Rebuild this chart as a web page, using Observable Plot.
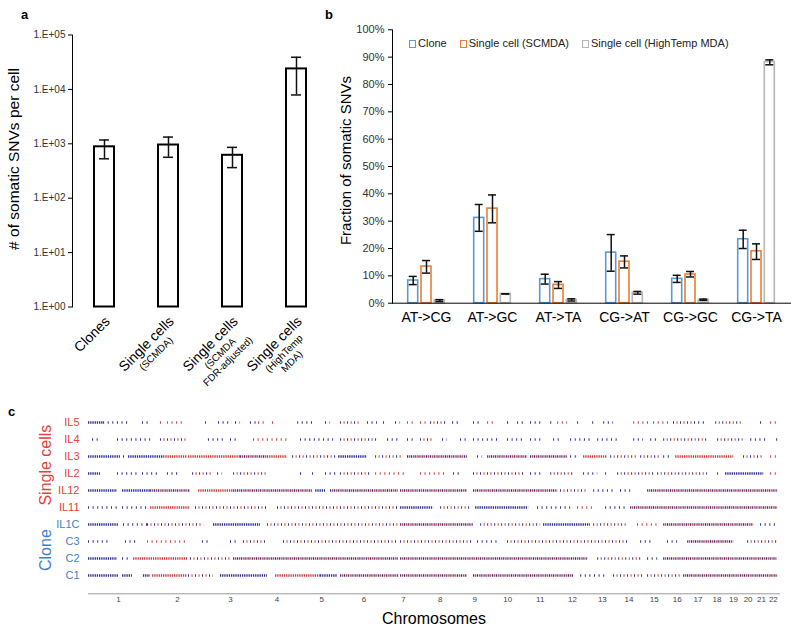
<!DOCTYPE html>
<html><head><meta charset="utf-8">
<script src="https://cdn.jsdelivr.net/npm/d3@7"></script>
<script src="https://cdn.jsdelivr.net/npm/@observablehq/plot@0.6"></script>
<style>
body{margin:0;background:#fff;font-family:"Liberation Sans",Arial,sans-serif;}
#root{position:relative;width:800px;height:632px;overflow:hidden;background:#fff}
.pl{position:absolute;font-weight:bold;font-size:13px;line-height:13px;color:#000}
.panel{position:absolute}
#legend{position:absolute;left:409px;top:37px;display:flex;font-size:11px;line-height:13px;color:#222;align-items:center;white-space:nowrap}
#legend .it{display:flex;align-items:center;margin-right:13px}
.sw{display:inline-block;width:5px;height:6px;border:1.3px solid;margin-right:2px;background:#fff}
</style></head><body>
<div id="root">
  <div class="pl" style="left:21px;top:7.5px">a</div>
  <div class="pl" style="left:325px;top:7.5px">b</div>
  <div class="pl" style="left:8px;top:404.5px">c</div>
  <div class="panel" id="pa" style="left:0;top:0"></div>
  <div class="panel" id="pb" style="left:330px;top:0"></div>
  <div class="panel" id="pc" style="left:0;top:400px"></div>
  <div id="legend"></div>
</div>
<script>
const FONT = '"Liberation Sans", Arial, sans-serif';
// ---------- Panel a data ----------
const aCategories = ["Clones", "Single cells (SCMDA)", "Single cells (SCMDA FDR-adjusted)", "Single cells (HighTemp MDA)"];
const aMain = ["Clones", "Single cells", "Single cells", "Single cells"];
const aSub = ["", "(SCMDA)", "(SCMDA\nFDR-adjusted)", "(HighTemp\nMDA)"];
const aValues = [880, 950, 615, 23800];
const aLow = [530, 565, 365, 7900];
const aHigh = [1175, 1330, 860, 39000];
const aTicks = [1, 10, 100, 1000, 10000, 100000];

// ---------- Panel b data (percent) ----------
const bCategories = ["AT->CG", "AT->GC", "AT->TA", "CG->AT", "CG->GC", "CG->TA"];
const bSeries = ["Clone", "Single cell (SCMDA)", "Single cell (HighTemp MDA)"];
const bClone = [8.3, 31.2, 8.8, 18.5, 8.9, 23.4];
const bCloneLo = [6.8, 26.3, 7.0, 11.7, 7.6, 20.0];
const bCloneHi = [9.8, 36.1, 10.6, 25.1, 10.2, 26.7];
const bScmda = [13.4, 34.6, 6.7, 15.2, 10.5, 19.0];
const bScmdaLo = [11.0, 29.4, 5.4, 12.9, 9.6, 16.0];
const bScmdaHi = [15.6, 39.6, 7.9, 17.3, 11.6, 21.7];
const bHigh = [1.0, 3.4, 1.2, 3.8, 1.2, 88.2];
const bHighLo = [0.6, 3.4, 0.8, 3.3, 1.0, 87.2];
const bHighHi = [1.3, 3.4, 1.6, 4.3, 1.5, 89.0];
const bTicks = [0, 10, 20, 30, 40, 50, 60, 70, 80, 90, 100];

// ---------- Panel c data ----------
const cRows = ["IL5", "IL4", "IL3", "IL2", "IL12", "IL11", "IL1C", "C3", "C2", "C1"];
const cRowGroups = ["Single cells", "Single cells", "Single cells", "Single cells", "Single cells", "Single cells", "Clone", "Clone", "Clone", "Clone"];
const chrNames = ["1","2","3","4","5","6","7","8","9","10","11","12","13","14","15","16","17","18","19","20","21","22"];
const chrLengthsMb = [249.25, 243.2, 198.0, 191.15, 180.9, 171.1, 159.1, 146.4, 141.2, 135.5, 135.0, 133.85, 115.2, 107.35, 102.5, 90.35, 81.2, 78.1, 59.1, 63.0, 48.1, 51.3];
// runs of somatic SNVs: [start Mb, end Mb, colour (b = blue, r = red, m = mixed), dense(1)/sparse(0)]
const runsIL5 = [[0,63,"b",1],[63,175,"b",0],[225,258,"b",0],[300,313,"r",0],[329,392,"r",0],[488,492,"b",0],[542,600,"b",0],[613,634,"b",0],[675,705,"b",0],[709,746,"r",0],[767,780,"r",0],[872,938,"b",0],[988,1009,"b",0],[1051,1134,"m",0],[1163,1205,"b",0],[1230,1247,"b",0],[1280,1301,"b",0],[1330,1355,"r",0],[1384,1414,"r",0],[1426,1497,"m",0],[1518,1551,"b",0],[1605,1635,"b",0],[1664,1689,"r",0],[1747,1760,"b",0],[1789,1814,"b",0],[1843,1897,"b",0],[1927,1939,"b",0],[1956,1997,"r",0],[2039,2052,"b",0],[2102,2110,"b",0],[2148,2189,"b",0],[2273,2344,"r",0],[2356,2427,"r",0],[2439,2540,"m",0],[2544,2581,"b",0],[2615,2731,"m",0],[2802,2815,"b",0],[2844,2877,"r",0]];
const runsIL4 = [[17,50,"b",0],[121,259,"b",0],[300,413,"m",0],[500,563,"b",0],[592,621,"b",0],[688,746,"r",0],[746,830,"r",0],[884,1022,"b",0],[1051,1205,"m",0],[1247,1301,"b",0],[1330,1355,"b",0],[1384,1439,"m",0],[1476,1497,"b",0],[1551,1580,"b",0],[1605,1718,"b",0],[1747,1814,"b",0],[1843,1897,"b",0],[1939,1968,"b",0],[2010,2093,"b",0],[2123,2206,"b",0],[2273,2314,"b",0],[2344,2373,"b",0],[2398,2581,"m",0],[2623,2731,"m",0],[2761,2831,"b",0],[2869,2877,"b",0]];
const runsIL3 = [[0,133,"b",1],[146,154,"b",0],[167,313,"b",1],[313,413,"r",1],[417,634,"r",1],[634,746,"m",1],[746,830,"r",1],[851,1038,"m",0],[1043,1163,"b",1],[1197,1314,"m",0],[1330,1580,"m",1],[1622,1643,"b",0],[1664,1831,"m",1],[1843,1997,"m",1],[2010,2039,"b",0],[2064,2164,"r",1],[2177,2289,"m",0],[2302,2385,"m",0],[2398,2427,"b",0],[2448,2690,"r",1],[2731,2815,"m",0],[2844,2877,"r",0]];
const runsIL2 = [[0,50,"b",1],[121,217,"b",0],[225,288,"b",0],[329,384,"b",0],[434,521,"m",0],[538,559,"b",0],[605,746,"m",0],[884,897,"b",0],[934,938,"b",0],[988,1038,"b",0],[1051,1176,"m",0],[1197,1330,"r",0],[1384,1497,"r",0],[1522,1551,"b",0],[1605,1814,"m",0],[1843,1897,"b",0],[1927,2022,"m",0],[2064,2123,"b",0],[2156,2160,"b",0],[2206,2356,"m",0],[2373,2581,"m",0],[2623,2627,"b",0],[2656,2815,"b",1],[2844,2877,"r",0]];
const runsIL12 = [[0,121,"b",1],[142,259,"b",1],[259,425,"m",1],[459,605,"r",1],[605,934,"m",1],[947,988,"b",1],[1009,1293,"m",1],[1301,1580,"m",1],[1605,1956,"m",1],[1968,2081,"m",0],[2106,2189,"b",0],[2218,2273,"b",0],[2331,2873,"m",1]];
const runsIL11 = [[0,125,"b",0],[142,246,"b",0],[259,425,"r",1],[446,746,"m",0],[788,1293,"m",0],[1301,1439,"b",1],[1468,1593,"m",0],[1614,1835,"b",1],[1872,2010,"b",0],[2039,2106,"r",0],[2156,2248,"b",0],[2260,2873,"m",1]];
const runsIL1C = [[0,125,"b",1],[146,246,"b",0],[246,480,"m",0],[521,717,"b",1],[746,1293,"m",0],[1301,1605,"m",1],[1635,1885,"m",0],[1897,2093,"b",1],[2106,2248,"m",0],[2289,2373,"r",0],[2398,2773,"m",1],[2802,2877,"b",0]];
const runsC3 = [[0,92,"b",0],[154,204,"b",0],[246,413,"r",0],[475,500,"b",0],[592,621,"b",0],[646,746,"m",0],[813,1293,"m",0],[1301,1605,"m",0],[1622,1718,"b",0],[1747,2248,"m",0],[2302,2356,"b",0],[2414,2456,"b",0],[2498,2690,"m",1],[2748,2877,"m",0]];
const runsC2 = [[0,121,"b",1],[142,175,"b",0],[188,413,"r",1],[425,592,"m",0],[605,1293,"m",1],[1301,2081,"m",1],[2123,2302,"m",0],[2331,2373,"b",0],[2398,2873,"m",1]];
const runsC1 = [[0,125,"b",1],[142,183,"b",1],[229,259,"b",1],[267,413,"r",1],[417,521,"m",0],[550,746,"b",1],[780,967,"r",1],[967,1038,"b",1],[1051,1293,"m",1],[1301,1580,"m",1],[1605,2022,"m",1],[2052,2164,"b",0],[2189,2314,"m",0],[2331,2469,"m",0],[2481,2873,"m",1]];
const cRuns = [runsIL5, runsIL4, runsIL3, runsIL2, runsIL12, runsIL11, runsIL1C, runsC3, runsC2, runsC1];

// ---------- styles ----------
const RED = "#e8403a", BLUE = "#3f7fce";
const DOT_BLUE = "#2f2f98", DOT_RED = "#d23c3c";
const bColors = ["#5b9bd5", "#ed7d31", "#b7b7b7"];
const baseStyle = {fontFamily: FONT, fontSize: "10px", background: "transparent", color: "#000", overflow: "visible"};

// ---------- Panel a ----------
const aData = aCategories.map((c, i) => ({c, main: aMain[i], sub: aSub[i], v: aValues[i], lo: aLow[i], hi: aHigh[i]}));
const fmtE = d => "1.E+" + String(Math.round(Math.log10(d))).padStart(2, "0");
const plotA = Plot.plot({
  width: 340, height: 400, marginLeft: 72, marginRight: 12, marginTop: 34.5, marginBottom: 93.5,
  style: baseStyle,
  x: {domain: aCategories, padding: 0, axis: null},
  y: {type: "log", domain: [1, 1e5], axis: null},
  marks: [
    Plot.frame({anchor: "left", stroke: "#000"}),
    Plot.axisY({ticks: aTicks, tickFormat: fmtE, tickSize: 4, tickPadding: 3, fontSize: 10, fill: "#333", label: null}),
    Plot.barY(aData, {x: "c", y1: 1, y2: "v", fill: "white", stroke: "black", strokeWidth: 2, insetLeft: 22, insetRight: 22}),
    Plot.ruleX(aData, {x: "c", y1: "lo", y2: "hi", stroke: "#111", strokeWidth: 1.5}),
    Plot.tickY(aData, {x: "c", y: "lo", stroke: "#111", strokeWidth: 1.5, insetLeft: 27, insetRight: 27}),
    Plot.tickY(aData, {x: "c", y: "hi", stroke: "#111", strokeWidth: 1.5, insetLeft: 27, insetRight: 27}),
    Plot.text(aData, {x: "c", text: "main", frameAnchor: "bottom", rotate: -45, textAnchor: "end", lineAnchor: "middle", dx: 3, dy: 12, fontSize: 14, fill: "#000"}),
    Plot.text(aData.filter(d => d.sub), {x: "c", text: "sub", frameAnchor: "bottom", rotate: -45, textAnchor: "middle", lineAnchor: "top", dx: -15.6, dy: 43.4, fontSize: 10, lineHeight: 1.1, fill: "#000"}),
    Plot.text(["# of somatic SNVs per cell"], {text: d => d, frameAnchor: "left", textAnchor: "middle", rotate: -90, dx: -58, dy: -12, fontSize: 15.5, fill: "#000"})
  ]
});
document.getElementById("pa").appendChild(plotA);

// ---------- Panel b ----------
const mkSeries = (vals, lo, hi) => bCategories.map((c, i) => ({c, v: vals[i], lo: lo[i], hi: hi[i]}));
const bSets = [mkSeries(bClone, bCloneLo, bCloneHi), mkSeries(bScmda, bScmdaLo, bScmdaHi), mkSeries(bHigh, bHighLo, bHighHi)];
const bOffsets = [-13.3, 0, 13.3];
const bMarks = [];
bSets.forEach((set, k) => {
  bMarks.push(Plot.barY(set, {x: "c", y1: 0, y2: "v", fill: "white", stroke: bColors[k], strokeWidth: 1.6, dx: bOffsets[k]}));
});
bSets.forEach((set, k) => {
  bMarks.push(Plot.ruleX(set, {x: "c", y1: "lo", y2: "hi", stroke: "#111", strokeWidth: 1.5, dx: bOffsets[k]}));
  bMarks.push(Plot.tickY(set, {x: "c", y: "lo", stroke: "#111", strokeWidth: 1.5, insetLeft: 1, insetRight: 1, dx: bOffsets[k]}));
  bMarks.push(Plot.tickY(set, {x: "c", y: "hi", stroke: "#111", strokeWidth: 1.5, insetLeft: 1, insetRight: 1, dx: bOffsets[k]}));
});
const plotB = Plot.plot({
  width: 470, height: 340, marginLeft: 62, marginRight: 10, marginTop: 29.3, marginBottom: 37.3,
  style: baseStyle,
  x: {domain: bCategories, paddingInner: 0.849, paddingOuter: 0.4245, axis: null},
  y: {domain: [0, 100], axis: null},
  marks: [
    ...bMarks,
    Plot.frame({anchor: "left", stroke: "#000"}),
    Plot.frame({anchor: "bottom", stroke: "#000"}),
    Plot.axisY({ticks: bTicks, tickFormat: d => d + "%", tickSize: 4, tickPadding: 4, fontSize: 11, fill: "#333", label: null}),
    Plot.axisX({tickSize: 0, tickPadding: 9, fontSize: 14, fill: "#000", label: null}),
    Plot.text(["Fraction of somatic SNVs"], {text: d => d, frameAnchor: "left", textAnchor: "middle", rotate: -90, dx: -46, dy: -6, fontSize: 15, fill: "#000"})
  ]
});
document.getElementById("pb").appendChild(plotB);

// legend
const leg = document.getElementById("legend");
bSeries.forEach((s, k) => {
  const it = document.createElement("span"); it.className = "it";
  const sw = document.createElement("span"); sw.className = "sw"; sw.style.borderColor = bColors[k];
  it.appendChild(sw); it.appendChild(document.createTextNode(s));
  leg.appendChild(it);
});

// ---------- Panel c ----------
const cumStart = []; let acc = 0;
chrLengthsMb.forEach(l => { cumStart.push(acc); acc += l; });
const genomeLen = acc;
const chrMid = chrLengthsMb.map((l, i) => cumStart[i] + l / 2);
const flat = [];
cRows.forEach((r, i) => cRuns[i].forEach(([x1, x2, c, d]) => flat.push({row: r, x1, x2: Math.min(x2, genomeLen), c, d})));
const rowColor = r => cRowGroups[cRows.indexOf(r)] === "Clone" ? BLUE : RED;
const rule = (filter, stroke, dash, offset) => Plot.ruleY(flat.filter(filter), {y: "row", x1: "x1", x2: "x2", stroke, strokeWidth: 2.6, strokeDasharray: dash, strokeDashoffset: offset});
const plotC = Plot.plot({
  width: 800, height: 232, marginLeft: 88, marginRight: 21, marginTop: 3.2, marginBottom: 38.7,
  style: baseStyle,
  x: {domain: [0, genomeLen], axis: null},
  y: {domain: cRows, type: "point", padding: 1, axis: null},
  color: {type: "identity"},
  marks: [
    rule(d => d.c === "b" && d.d === 1, DOT_BLUE, "1.3,0.9", 0),
    rule(d => d.c === "b" && d.d === 0, DOT_BLUE, "1,3.6", 0),
    rule(d => d.c === "r" && d.d === 1, DOT_RED, "1.3,0.9", 0),
    rule(d => d.c === "r" && d.d === 0, DOT_RED, "1,3.6", 0),
    rule(d => d.c === "m" && d.d === 1, DOT_BLUE, "1.2,2.6", 0),
    rule(d => d.c === "m" && d.d === 1, DOT_RED, "1.2,2.6", 1.9),
    rule(d => d.c === "m" && d.d === 0, DOT_BLUE, "1,6", 0),
    rule(d => d.c === "m" && d.d === 0, DOT_RED, "1,6", 3.5),
    Plot.frame({anchor: "bottom", stroke: "#999"}),
    Plot.axisX({ticks: chrMid, tickFormat: d => chrNames[chrMid.indexOf(d)], tickSize: 0, tickPadding: 3, fontSize: 8, fill: "#444", label: null}),
    Plot.text(cRows, {y: d => d, text: d => d, fill: d => rowColor(d), frameAnchor: "left", textAnchor: "end", dx: -9, fontSize: 11}),
    Plot.text([{t: "Single cells", row: "IL3", f: RED}, {t: "Clone", row: "C3", f: BLUE}], {y: "row", text: "t", fill: "f", rotate: -90, frameAnchor: "left", textAnchor: "middle", dx: -43, dy: 8.6, fontSize: 16}),
    Plot.text(["Chromosomes"], {text: d => d, frameAnchor: "bottom", lineAnchor: "middle", dy: 25, fontSize: 16, fill: "#000"})
  ]
});
document.getElementById("pc").appendChild(plotC);
</script>
</body></html>
